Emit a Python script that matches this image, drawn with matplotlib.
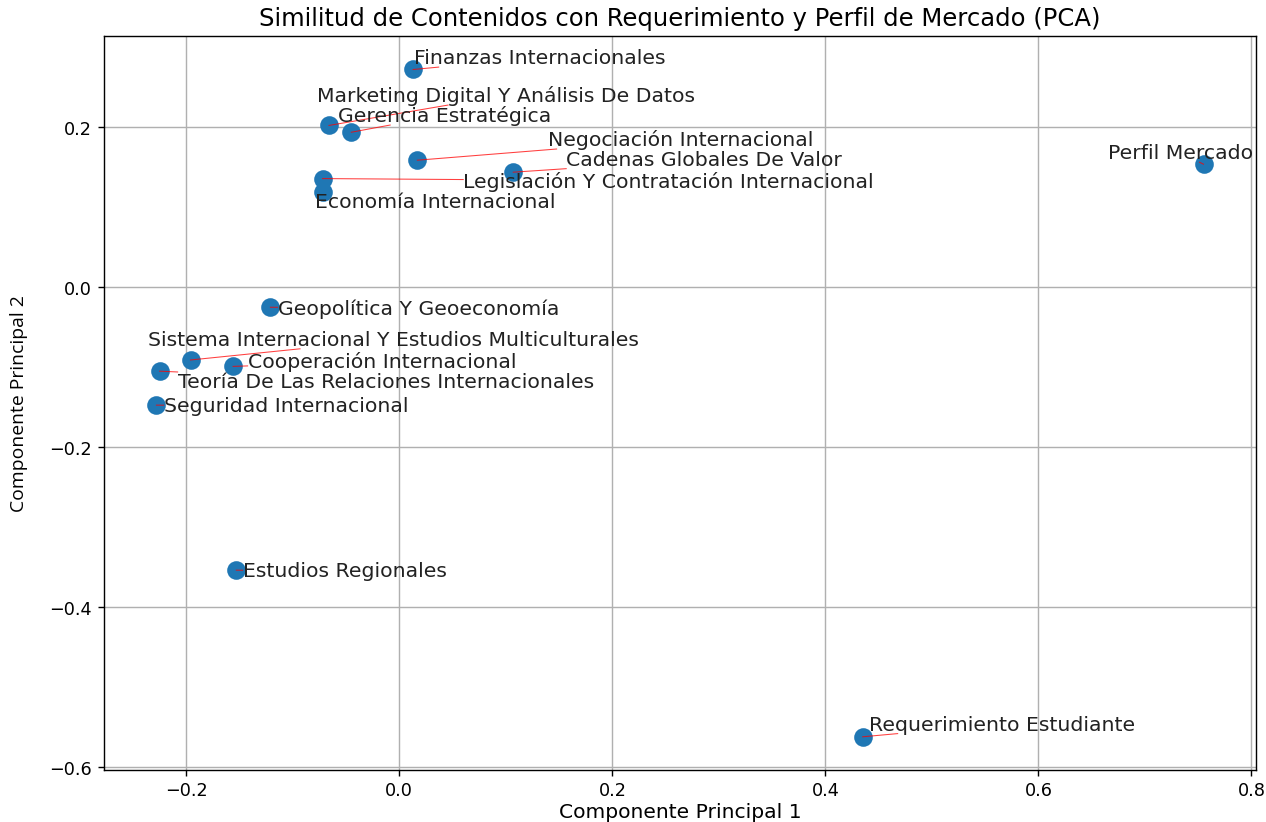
import matplotlib
matplotlib.use("Agg")
import matplotlib.pyplot as plt

# Course / profile names
labels = [
    "Finanzas Internacionales",
    "Marketing Digital Y Análisis De Datos",
    "Gerencia Estratégica",
    "Negociación Internacional",
    "Cadenas Globales De Valor",
    "Legislación Y Contratación Internacional",
    "Economía Internacional",
    "Perfil Mercado",
    "Geopolítica Y Geoeconomía",
    "Sistema Internacional Y Estudios Multiculturales",
    "Cooperación Internacional",
    "Teoría De Las Relaciones Internacionales",
    "Seguridad Internacional",
    "Estudios Regionales",
    "Requerimiento Estudiante",
]

# PCA coordinates
pc1 = [0.013, -0.066, -0.045, 0.017, 0.107, -0.072, -0.072, 0.755,
       -0.121, -0.196, -0.156, -0.225, -0.228, -0.153, 0.435]
pc2 = [0.2725, 0.2025, 0.194, 0.159, 0.144, 0.136, 0.119, 0.154,
       -0.025, -0.091, -0.099, -0.105, -0.1475, -0.354, -0.5625]

# Label placement (after overlap adjustment), data coordinates
label_x = [0.0142, -0.0768, -0.058, 0.140, 0.1567, 0.060, -0.0787, 0.665,
           -0.1143, -0.2362, -0.1424, -0.2081, -0.2212, -0.1471, 0.4407]
label_y = [0.2805, 0.233, 0.208, 0.178, 0.153, 0.1255, 0.1005, 0.1615,
           -0.0335, -0.072, -0.1005, -0.1245, -0.1555, -0.362, -0.5535]

fig = plt.figure(figsize=(10, 6.5), dpi=126.6)
ax = fig.add_axes([0.0822, 0.063, 0.9098, 0.892])

ax.scatter(pc1, pc2, s=92, color="#1f77b4", zorder=2)

texts = []
for name, tx, ty in zip(labels, label_x, label_y):
    texts.append(ax.text(tx, ty, name, fontsize=11.6, color="#222222",
                         zorder=4))

ax.set_title("Similitud de Contenidos con Requerimiento y Perfil de Mercado (PCA)",
             fontsize=13.8, pad=6.5)
ax.set_xlabel("Componente Principal 1", fontsize=11.5, labelpad=2)
ax.set_ylabel("Componente Principal 2", fontsize=11,
              family=["Open Sans", "DejaVu Sans"], labelpad=12)
ax.tick_params(axis="x", pad=2.5)
ax.grid(True)
ax.set_axisbelow(True)

# Connector lines: from each point towards its label centre, stopping at the
# edge of the label's bounding box.
fig.canvas.draw()
ax.set_xlim(ax.get_xlim())
ax.set_ylim(ax.get_ylim())
renderer = fig.canvas.get_renderer()
inv = ax.transData.inverted()
for t, x, y in zip(texts, pc1, pc2):
    bb = t.get_window_extent(renderer)
    px, py = ax.transData.transform((x, y))
    cx, cy = (bb.x0 + bb.x1) / 2, (bb.y0 + bb.y1) / 2
    sx = 0.0
    if px < bb.x0:
        sx = (bb.x0 - px) / (cx - px)
    elif px > bb.x1:
        sx = (bb.x1 - px) / (cx - px)
    sy = 0.0
    if py < bb.y0:
        sy = (bb.y0 - py) / (cy - py)
    elif py > bb.y1:
        sy = (bb.y1 - py) / (cy - py)
    s = max(sx, sy)
    ex, ey = inv.transform((px + s * (cx - px), py + s * (cy - py)))
    ax.plot([x, ex], [y, ey], color="red", lw=0.6, alpha=0.75, zorder=3,
            scalex=False, scaley=False)

fig.savefig("out.png", dpi=126.6)
